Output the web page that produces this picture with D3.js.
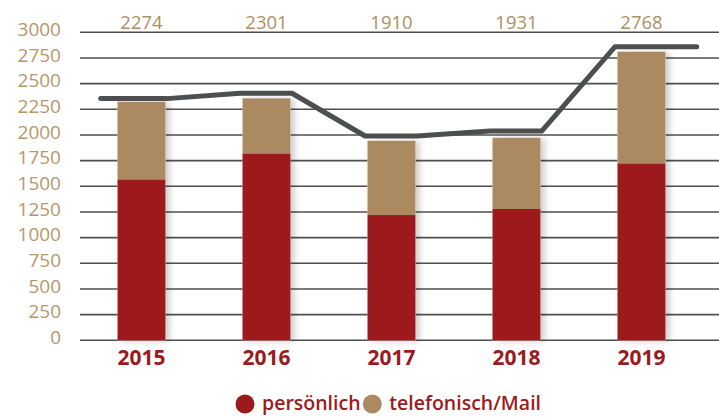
<!DOCTYPE html>
<html><head><meta charset="utf-8">
<script src="https://cdn.jsdelivr.net/npm/d3@7"></script>
<style>html,body{margin:0;padding:0;background:#fff;}svg{display:block;}</style>
</head><body>
<svg id="chart" width="719" height="418"></svg>
<script>
const years = ["2015","2016","2017","2018","2019"];
const persoenlich = [1568, 1821, 1220, 1279, 1724];
const telefonisch = [756, 536, 724, 694, 1087];
const lineValues = [2354, 2406, 1990, 2039, 2860];
const totalLabels = ["2274","2301","1910","1931","2768"];
const yTicks = [0,250,500,750,1000,1250,1500,1750,2000,2250,2500,2750,3000];
const legendLabels = ["persönlich","telefonisch/Mail"];

const RED = "#9c1a1c", TAN = "#ab8961", GRID = "#4f4f4f", LINE = "#4d4e50";
const FONT = "'Open Sans', sans-serif";

const svg = d3.select("#chart");
const y = d3.scaleLinear().domain([0,3000]).range([340.3,32.3]);
const x = d3.scaleBand().domain(years).range([79,704]).paddingInner(0.616).paddingOuter(0.308);
const bw = x.bandwidth();

const defs = svg.append("defs");
const f = defs.append("filter").attr("id","sh").attr("x","-20%").attr("y","-5%").attr("width","160%").attr("height","110%");
f.append("feDropShadow").attr("dx",4).attr("dy",1).attr("stdDeviation",3).attr("flood-color","#000").attr("flood-opacity",0.2);

// grid
svg.append("g").selectAll("line").data(yTicks).join("line")
  .attr("x1",80).attr("x2",719).attr("y1",d=>y(d)).attr("y2",d=>y(d))
  .attr("stroke",GRID).attr("stroke-width",1.6);

// y labels
svg.append("g").selectAll("text").data(yTicks).join("text")
  .attr("x",61).attr("y",d=>y(d)+3.7).attr("text-anchor","end")
  .attr("font-family",FONT).attr("font-weight",500).attr("font-size",19).attr("fill","#b8966c")
  .text(d=>d);

const stackData = years.map((yr,i)=>({year:yr, p:persoenlich[i], t:telefonisch[i]}));

// bar shadows
svg.append("g").selectAll("rect").data(stackData).join("rect")
  .attr("x",d=>x(d.year)).attr("width",bw)
  .attr("y",d=>y(d.p+d.t)).attr("height",d=>y(0)-y(d.p+d.t))
  .attr("fill","#fff").attr("filter","url(#sh)");

// bars
const stack = d3.stack().keys(["p","t"])(stackData);
const colors = {p:RED, t:TAN};
const gb = svg.append("g");
stack.forEach(s=>{
  gb.append("g").attr("fill",colors[s.key])
    .selectAll("rect").data(s).join("rect")
    .attr("x",d=>x(d.data.year)).attr("width",bw)
    .attr("y",d=>y(d[1])).attr("height",d=>y(d[0])-y(d[1]));
});

// line
const pts = [];
years.forEach((yr,i)=>{
  const c = x(yr)+bw/2;
  const left = i===0 ? c - bw*0.85 : c - bw*0.55;
  const right = i===years.length-1 ? c + bw*1.15 : c + bw*0.53;
  pts.push([left, y(lineValues[i])]);
  pts.push([right, y(lineValues[i])]);
});
svg.append("path").attr("d",d3.line()(pts)).attr("fill","none")
  .attr("stroke",LINE).attr("stroke-width",5).attr("stroke-linecap","round").attr("stroke-linejoin","round");

// top labels
svg.append("g").selectAll("text").data(years).join("text")
  .attr("x",d=>x(d)+bw/2).attr("y",29).attr("text-anchor","middle")
  .attr("font-family",FONT).attr("font-weight",500).attr("font-size",18.5).attr("fill","#b08e64")
  .text((d,i)=>totalLabels[i]);

// year labels
svg.append("g").selectAll("text").data(years).join("text")
  .attr("x",d=>x(d)+bw/2).attr("y",365).attr("text-anchor","middle")
  .attr("font-family",FONT).attr("font-weight",700).attr("font-size",21).attr("fill",RED)
  .text(d=>d);

// legend
const legX = [245, 372.3];
const legCol = [RED, TAN];
const lg = svg.append("g");
legendLabels.forEach((l,i)=>{
  lg.append("circle").attr("cx",legX[i]).attr("cy",404).attr("r",9.5).attr("fill",legCol[i]);
  lg.append("text").attr("x",legX[i]+17).attr("y",410).attr("font-family",FONT)
    .attr("font-weight",600).attr("font-size",19.5).attr("fill",RED).text(l);
});
</script>
</body></html>
